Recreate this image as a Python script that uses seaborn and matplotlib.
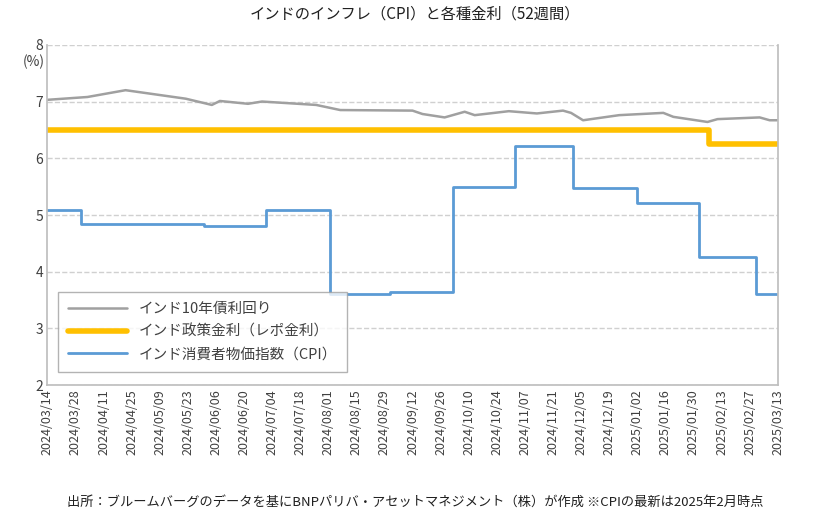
import matplotlib
matplotlib.use("Agg")
import matplotlib.pyplot as plt
import matplotlib.dates as mdates
import seaborn as sns
import pandas as pd

sns.set_theme(style="white")
plt.rcParams['font.family'] = ['Noto Sans CJK JP', 'DejaVu Sans']

bond_dates = ["2024-03-14","2024-04-03","2024-04-22","2024-05-10","2024-05-22","2024-06-04","2024-06-08",
              "2024-06-22","2024-06-29","2024-07-26","2024-08-07","2024-09-12","2024-09-17","2024-09-28",
              "2024-10-08","2024-10-13","2024-10-30","2024-11-13","2024-11-26","2024-11-30","2024-12-06",
              "2024-12-24","2025-01-15","2025-01-20","2025-02-06","2025-02-11","2025-03-04","2025-03-09","2025-03-13"]
bond_vals = [7.03,7.08,7.20,7.11,7.05,6.94,7.01,6.96,7.00,6.94,6.85,6.84,6.78,6.72,6.82,6.76,6.83,6.79,6.84,6.80,
             6.67,6.76,6.80,6.73,6.64,6.69,6.72,6.67,6.67]

repo_dates = ["2024-03-14","2025-02-06","2025-02-07","2025-03-13"]
repo_vals = [6.5,6.5,6.25,6.25]

cpi_dates = ["2024-03-14","2024-03-31","2024-05-31","2024-07-01","2024-08-02","2024-09-01","2024-10-02",
             "2024-11-02","2024-12-01","2025-01-02","2025-02-02","2025-03-02","2025-03-13"]
cpi_vals = [5.09,4.85,4.80,5.08,3.60,3.65,5.49,6.21,5.48,5.22,4.26,3.61,3.61]

tick_dates = pd.date_range("2024-03-14", "2025-03-13", freq="14D")

bond = pd.DataFrame({"d": pd.to_datetime(bond_dates), "v": bond_vals})
repo = pd.DataFrame({"d": pd.to_datetime(repo_dates), "v": repo_vals})
cpi = pd.DataFrame({"d": pd.to_datetime(cpi_dates), "v": cpi_vals})

fig = plt.figure(figsize=(8.3, 5.27), dpi=100)
ax = fig.add_axes([0.057, 0.269, 0.88, 0.646])

sns.lineplot(data=bond, x="d", y="v", ax=ax, color="#a0a0a0", lw=1.8, label="インド10年債利回り")
sns.lineplot(data=repo, x="d", y="v", ax=ax, color="#ffc000", lw=4, drawstyle="steps-post",
             label="インド政策金利（レポ金利）")
sns.lineplot(data=cpi, x="d", y="v", ax=ax, color="#5b9bd5", lw=2, drawstyle="steps-post", label="インド消費者物価指数（CPI）")

ax.set_xlim(pd.Timestamp("2024-03-14"), pd.Timestamp("2025-03-13"))
ax.set_ylim(2, 8)
ax.set_yticks(range(2, 9))
ax.yaxis.grid(True, ls="--", color="#d0d0d0", lw=1)
ax.set_xticks(tick_dates)
ax.xaxis.set_major_formatter(mdates.DateFormatter("%Y/%m/%d"))
plt.setp(ax.get_xticklabels(), rotation=90, fontsize=9, color="#404040")
plt.setp(ax.get_yticklabels(), fontsize=10, color="#404040")
ax.set_xlabel(""); ax.set_ylabel("")
ax.spines["top"].set_visible(False)
for s in ["left", "right", "bottom"]:
    ax.spines[s].set_color("#bfbfbf")
ax.tick_params(axis="both", length=0, pad=3)

leg = ax.legend(loc="lower left", bbox_to_anchor=(0.015, 0.04), fontsize=10.5, frameon=True,
                fancybox=False, edgecolor="#a0a0a0", borderpad=0.7, handlelength=4, labelspacing=0.6,
                borderaxespad=0)
for t in leg.get_texts():
    t.set_color("#404040")

fig.text(0.5, 0.965, "インドのインフレ（CPI）と各種金利（52週間）", ha="center", fontsize=11, color="#202020")
fig.text(0.027, 0.875, "(%)", fontsize=10, color="#404040")
fig.text(0.5, 0.04, "出所：ブルームバーグのデータを基にBNPパリバ・アセットマネジメント（株）が作成 ※CPIの最新は2025年2月時点",
         ha="center", fontsize=9.5, color="#202020")

fig.savefig("out.png", dpi=100)
